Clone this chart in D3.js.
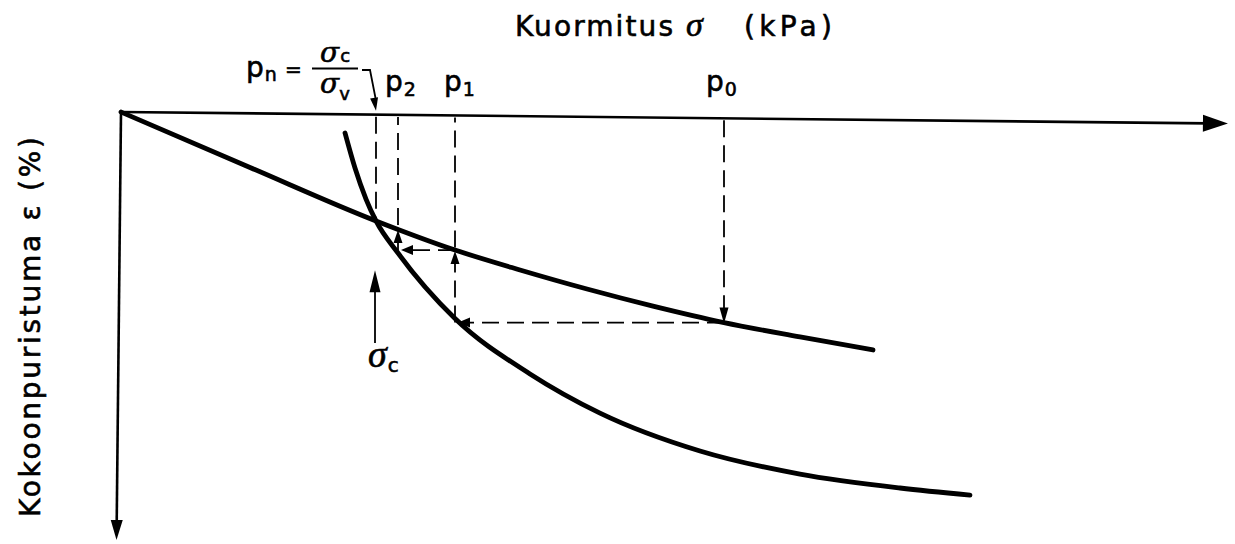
<!DOCTYPE html>
<html>
<head>
<meta charset="utf-8">
<script src="https://cdn.jsdelivr.net/npm/d3@7"></script>
<style>
  html, body { margin: 0; padding: 0; background: #fff; }
  svg { display: block; }
</style>
</head>
<body>
<svg id="chart" width="1235" height="544"></svg>
<script>
// Load (kPa, notional) and compression strain (%, notional).
// Reloading curve starting from the origin.
const reloadSigma  = [0, 25.8, 51.0, 66.8, 79.8, 93.2, 106.4, 120.6, 135.8, 150.4];
const reloadStrain = [0, 2.59, 5.09, 6.45, 7.38, 8.27, 9.07, 9.84, 10.51, 11.12];

// Virgin compression curve.
const virginSigma  = [44.8, 46.8, 49.0, 51.0, 55.4, 66.8, 81.8, 95.8, 115.8, 135.8, 155.8, 169.8];
const virginStrain = [0.98, 2.62, 4.07, 5.09, 6.59, 9.65, 12.24, 14.07, 15.84, 16.92, 17.57, 17.90];

// Load steps p0 -> p1 -> p2 -> pn and the strain level of each horizontal step.
const stepNames  = ["0", "1", "2"];
const stepSigma  = [120.6, 66.8, 55.4];
const stepStrain = [9.84, 6.45, 5.47];
const pnSigma = 51.0, pnStrain = 5.09;

// Axis extents.
const sigmaMax = 221.4, strainMax = 20;

const svg = d3.select("#chart");
const x = d3.scaleLinear().domain([0, 220]).range([121, 1221]);
const y = d3.scaleLinear().domain([0, strainMax]).range([112, 540]);

const SANS = "'DejaVu Sans', sans-serif";
const SERIF = "'Liberation Serif', 'DejaVu Serif', serif";
const SERIF_WIDE = "'DejaVu Serif', 'Liberation Serif', serif";

// Filled triangular arrowhead with its tip at (tx, ty), pointing along (dx, dy).
function arrowHead(g, tx, ty, dx, dy, len, hw) {
  const n = Math.hypot(dx, dy), ux = dx / n, uy = dy / n;
  const bx = tx - ux * len, by = ty - uy * len;
  const px = -uy * hw, py = ux * hw;
  g.append("path")
    .attr("d", `M${tx},${ty}L${bx + px},${by + py}L${bx - px},${by - py}Z`)
    .attr("fill", "#000");
}

// Axes: compression grows downward, load grows to the right.
const tilt = 0.6;
const axes = svg.append("g").attr("transform", `rotate(${tilt}, ${x(0)}, ${y(0)})`);
axes.append("line")
  .attr("x1", x(0)).attr("y1", y(0)).attr("x2", x(sigmaMax) - 20).attr("y2", y(0))
  .attr("stroke", "#000").attr("stroke-width", 2.6);
arrowHead(axes, x(sigmaMax), y(0), 1, 0, 25, 8.5);
axes.append("line")
  .attr("x1", x(0)).attr("y1", y(0)).attr("x2", x(0)).attr("y2", y(strainMax) - 16)
  .attr("stroke", "#000").attr("stroke-width", 2.6);
arrowHead(axes, x(0), y(strainMax), 0, 1, 20, 6);

// Curves.
const line = d3.line().x(d => x(d[0])).y(d => y(d[1])).curve(d3.curveMonotoneX);
svg.append("path")
  .datum(d3.zip(reloadSigma, reloadStrain))
  .attr("d", line).attr("fill", "none").attr("stroke", "#000")
  .attr("stroke-width", 4.8).attr("stroke-linecap", "round");
svg.append("path")
  .datum(d3.zip(virginSigma, virginStrain))
  .attr("d", line).attr("fill", "none").attr("stroke", "#000")
  .attr("stroke-width", 4.8).attr("stroke-linecap", "round");

// Dashed construction lines.
const dash = svg.append("g").attr("stroke", "#000").attr("stroke-width", 1.8)
  .attr("stroke-dasharray", "17,8").attr("fill", "none");
const arrows = svg.append("g");
const axisY = s => y(0) + (x(s) - x(0)) * Math.tan(tilt * Math.PI / 180);

// p0: from the load axis down to the reloading curve.
dash.append("line")
  .attr("x1", x(stepSigma[0])).attr("y1", axisY(stepSigma[0]) + 2)
  .attr("x2", x(stepSigma[0])).attr("y2", y(stepStrain[0]) - 12);
arrowHead(arrows, x(stepSigma[0]), y(stepStrain[0]) + 1, 0, 1, 16, 4.5);

// Staircase p0 -> p1 -> p2.
for (let i = 0; i < stepSigma.length - 1; i++) {
  const s0 = stepSigma[i], s1 = stepSigma[i + 1];
  const e0 = stepStrain[i], e1 = stepStrain[i + 1];
  // horizontal to the virgin curve
  dash.append("line")
    .attr("x1", x(s0)).attr("y1", y(e0))
    .attr("x2", x(s1) + 12).attr("y2", y(e0));
  arrowHead(arrows, x(s1) + 3, y(e0), -1, 0, 12, 5);
  // vertical back up to the load axis
  dash.append("line")
    .attr("x1", x(s1)).attr("y1", y(e0))
    .attr("x2", x(s1)).attr("y2", axisY(s1) + 2);
  arrowHead(arrows, x(s1), y(e1) + 1, 0, -1, 13, 4.5);
}

// pn: load axis down to the intersection.
dash.append("line")
  .attr("x1", x(pnSigma)).attr("y1", axisY(pnSigma) + 2)
  .attr("x2", x(pnSigma)).attr("y2", y(pnStrain));

// Preconsolidation arrow.
svg.append("line")
  .attr("x1", x(pnSigma) - 1).attr("y1", y(10.8))
  .attr("x2", x(pnSigma) - 1).attr("y2", y(7.4) + 18)
  .attr("stroke", "#000").attr("stroke-width", 1.8);
arrowHead(svg, x(pnSigma) - 1, y(7.4), 0, -1, 22, 5.5);

// Hook arrow from the pn label to the load axis.
svg.append("path")
  .attr("d", `M${x(pnSigma) - 14},70L${x(pnSigma) - 6},70L${x(pnSigma) - 0.5},98`)
  .attr("fill", "none").attr("stroke", "#000").attr("stroke-width", 1.8);
arrowHead(svg, x(pnSigma), axisY(pnSigma) - 4, 0.15, 1, 13, 4);

// Texts (slight outline gives the heavier lettering).
const t = svg.append("g").attr("fill", "#000").attr("stroke", "#000").attr("stroke-width", 0.6);

// Load axis title
t.append("text").attr("x", 515).attr("y", 36).attr("font-family", SANS).attr("font-size", 28)
  .attr("textLength", 158).attr("lengthAdjust", "spacing").text("Kuormitus");
t.append("text").attr("x", 686).attr("y", 36).attr("font-family", SERIF).attr("font-style", "italic")
  .attr("font-size", 34).text("σ");
t.append("text").attr("x", 744).attr("y", 36).attr("font-family", SANS).attr("font-size", 28)
  .attr("textLength", 88).attr("lengthAdjust", "spacing").text("(kPa)");

// Strain axis title
t.append("text").attr("transform", "translate(40, 327) rotate(-90)")
  .attr("text-anchor", "middle").attr("font-family", SANS).attr("font-size", 28)
  .attr("textLength", 380).attr("lengthAdjust", "spacing").text("Kokoonpuristuma ε (%)");

// Step labels p0, p1, p2
const stepLabelShift = [-5, 2, 0];
stepNames.forEach((nm, i) => {
  const lbl = t.append("text").attr("x", x(stepSigma[i]) + stepLabelShift[i] - 13).attr("y", 91)
    .attr("font-family", SANS).attr("font-size", 28);
  lbl.append("tspan").text("p");
  lbl.append("tspan").attr("font-size", 19).attr("dy", 5).attr("dx", 1).text(nm);
});

// pn = σc / σv
const pn = t.append("text").attr("x", 246).attr("y", 77).attr("font-family", SANS).attr("font-size", 28);
pn.append("tspan").text("p");
pn.append("tspan").attr("font-size", 19).attr("dy", 4).attr("dx", 1).text("n");
t.append("text").attr("x", 285).attr("y", 76).attr("font-family", SANS).attr("font-size", 20).text("=");
const num = t.append("text").attr("x", 320).attr("y", 62).attr("font-family", SERIF_WIDE)
  .attr("font-style", "italic").attr("font-size", 28);
num.append("tspan").text("σ");
num.append("tspan").attr("font-family", SANS).attr("font-style", "normal")
  .attr("font-size", 18).attr("dx", 1).text("c");
svg.append("line").attr("x1", 312).attr("x2", 358).attr("y1", 68.5).attr("y2", 68.5)
  .attr("stroke", "#000").attr("stroke-width", 2.2);
const den = t.append("text").attr("x", 320).attr("y", 93).attr("font-family", SERIF_WIDE)
  .attr("font-style", "italic").attr("font-size", 28);
den.append("tspan").text("σ");
den.append("tspan").attr("font-family", SANS).attr("font-style", "normal")
  .attr("font-size", 18).attr("dy", 7).text("v");

// σc under the preconsolidation arrow
const sc = t.append("text").attr("x", 368).attr("y", 367).attr("font-family", SERIF)
  .attr("font-style", "italic").attr("font-size", 38);
sc.append("tspan").text("σ");
sc.append("tspan").attr("font-family", SANS).attr("font-style", "normal")
  .attr("font-size", 20).attr("dx", 1).attr("dy", 5).text("c");
</script>
</body>
</html>
